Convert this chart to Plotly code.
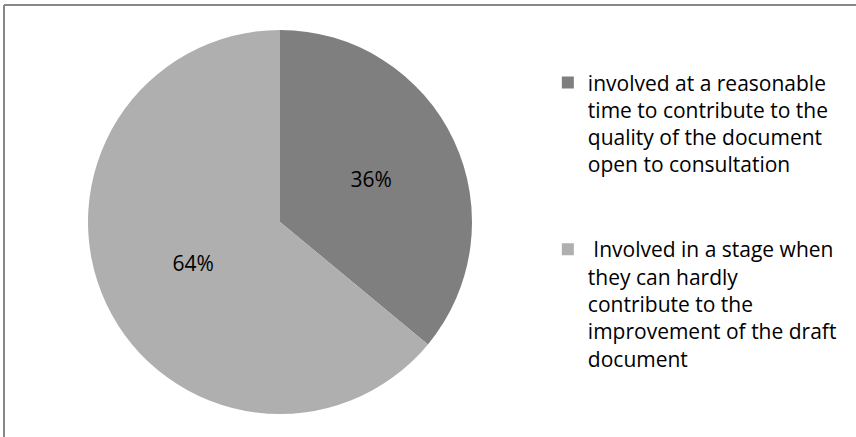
import plotly.graph_objects as go

labels = [
    "involved at a reasonable<br>time to contribute to the<br>quality of the document<br>open to consultation<br> <br> ",
    " Involved in a stage when<br>they can hardly<br>contribute to the<br>improvement of the draft<br>document",
]
values = [36, 64]
colors = ["#7f7f7f", "#afafaf"]

fig = go.Figure(go.Pie(
    labels=labels,
    values=values,
    sort=False,
    direction="clockwise",
    rotation=0,
    marker=dict(colors=colors, line=dict(width=0)),
    textinfo="percent",
    texttemplate="%{percent:.0%}",
    textposition="inside",
    insidetextfont=dict(color="black", size=21, family="Open Sans"),
    domain=dict(x=[88/856, 472/856], y=[23/437, 407/437]),
    hoverinfo="label+percent",
))

fig.update_layout(
    width=856, height=437,
    margin=dict(l=0, r=0, t=0, b=0),
    paper_bgcolor="white",
    font=dict(family="Open Sans", color="black"),
    legend=dict(
        x=0.640, y=0.8576, xanchor="left", yanchor="top",
        valign="top",
        font=dict(size=21, family="Open Sans", color="black"),
        bgcolor="rgba(0,0,0,0)",
    ),
    shapes=[
        dict(type="line", xref="paper", yref="paper", x0=4/856, x1=1, y0=1-5/437, y1=1-5/437,
             line=dict(color="#888888", width=2)),
        dict(type="line", xref="paper", yref="paper", x0=4/856, x1=4/856, y0=0, y1=1-5/437,
             line=dict(color="#888888", width=2)),
    ],
)

fig.write_html("out.html")
